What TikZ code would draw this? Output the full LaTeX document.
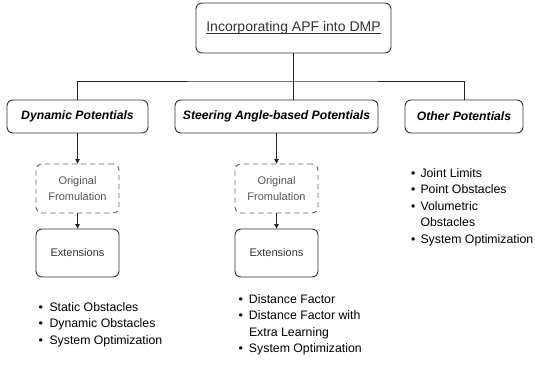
\documentclass[tikz,border=0pt]{standalone}
\usepackage{fontspec}
\setmainfont{Liberation Sans}
\newcommand\titleuline[1]{\setbox0\hbox{#1}\rlap{\rule[-1.8pt]{\wd0}{0.7pt}}\box0}
\usetikzlibrary{arrows.meta}
\definecolor{edgec}{HTML}{222222}
\definecolor{boxc}{HTML}{333333}
\definecolor{txtc}{HTML}{333333}
\definecolor{graytxt}{HTML}{555555}
\definecolor{dashc}{HTML}{666666}
\tikzset{
  mainbox/.style={draw=boxc, line width=0.9pt, rounded corners=6pt, inner sep=0pt, align=center},
  catbox/.style={mainbox, minimum height=33pt, font=\fontsize{12.2}{14}\selectfont\bfseries\itshape},
  dashbox/.style={draw=dashc, line width=0.9pt, dashed, dash pattern=on 5pt off 4pt, rounded corners=6pt, inner sep=0pt, minimum width=83pt, minimum height=49pt, align=center, text=graytxt, font=\fontsize{11}{15.5}\selectfont},
  extbox/.style={mainbox, minimum width=83pt, minimum height=48pt, text=txtc, font=\fontsize{11}{13}\selectfont},
  tree/.style={draw=edgec, line width=1pt},
  arr/.style={draw=edgec, line width=0.8pt, -{Triangle[length=4.5pt,width=4.5pt]}},
  blist/.style={anchor=north west, inner sep=0pt, text=black, font=\fontsize{12.3}{16.5}\selectfont}
}
\begin{document}
\begin{tikzpicture}[x=1pt,y=-1pt]
\useasboundingbox (0,0) rectangle (535,364);
\node[mainbox, minimum width=195pt, minimum height=50pt, text=txtc, font=\fontsize{14}{16}\selectfont] (top) at (293.5,28) {\titleuline{Incorporating APF into DMP}};
\node[catbox, minimum width=141pt] (dyn) at (77.5,116.5) {Dynamic Potentials};
\node[catbox, minimum width=203pt] (st) at (276.5,116.5) {Steering Angle-based Potentials};
\node[catbox, minimum width=118pt] (oth) at (464,116.5) {Other Potentials};
\coordinate (j) at (293.5,81);
\draw[tree] (top.south) -- (top.south |- st.north);
\draw[tree] (dyn.north) |- (j) -| (oth.north);
\node[dashbox] (dorig) at (77.5,188.5) {Original\\Fromulation};
\node[extbox] (dext) at (77.5,253) {Extensions};
\node[dashbox] (sorig) at (276.5,188.5) {Original\\Fromulation};
\node[extbox] (sext) at (276.5,253) {Extensions};
\draw[arr] (dyn.south) -- (dorig.north);
\draw[arr] (dorig.south) -- (dext.north);
\draw[arr] (st.south) -- (sorig.north);
\draw[arr] (sorig.south) -- (sext.north);
\node[blist] (dlist) at (38.5,299.5) {\begin{tabular}{@{}c@{\hspace{6.5pt}}l@{}}
\textbullet & Static Obstacles\\
\textbullet & Dynamic Obstacles\\
\textbullet & System Optimization
\end{tabular}};
\node[blist] (slist) at (238.5,291.5) {\begin{tabular}{@{}c@{\hspace{6pt}}l@{}}
\textbullet & Distance Factor\\
\textbullet & Distance Factor with\\
 & Extra Learning\\
\textbullet & System Optimization
\end{tabular}};
\node[blist] (olist) at (411,165.5) {\begin{tabular}{@{}c@{\hspace{5pt}}l@{}}
\textbullet & Joint Limits\\
\textbullet & Point Obstacles\\
\textbullet & Volumetric\\
 & Obstacles\\
\textbullet & System Optimization
\end{tabular}};
\end{tikzpicture}
\end{document}
